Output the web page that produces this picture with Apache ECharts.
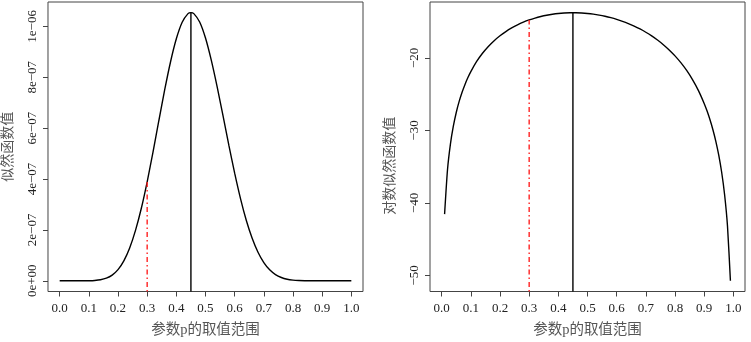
<!DOCTYPE html>
<html>
<head>
<meta charset="utf-8">
<script src="https://cdn.jsdelivr.net/npm/echarts@6/dist/echarts.min.js"></script>
<style>
  html, body { margin: 0; padding: 0; background: #fff; }
  #chart { width: 751px; height: 342px; }
</style>
</head>
<body>
<div id="chart"></div>
<script>
// 似然函数 / 对数似然函数 (p 的取值)
var pLeft = [0, 0.02, 0.04, 0.06, 0.08, 0.10, 0.12, 0.14, 0.16, 0.18, 0.20, 0.22, 0.24, 0.26, 0.28, 0.30,
  0.32, 0.34, 0.36, 0.38, 0.40, 0.42, 0.44, 0.45, 0.46, 0.48, 0.50, 0.52, 0.54, 0.56, 0.58, 0.60,
  0.62, 0.64, 0.66, 0.68, 0.70, 0.72, 0.74, 0.76, 0.78, 0.80, 0.82, 0.84, 0.86, 0.88, 0.90,
  0.92, 0.94, 0.96, 0.98, 1.0];
var likelihood = [0, 0, 0, 5.1e-12, 5.4e-11, 3.1e-10, 1.27e-9, 3.9e-9, 1.01e-8, 2.24e-8, 4.40e-8, 7.85e-8,
  1.29e-7, 1.98e-7, 2.85e-7, 3.89e-7, 5.06e-7, 6.29e-7, 7.50e-7, 8.60e-7, 9.51e-7, 1.016e-6, 1.050e-6,
  1.054e-6, 1.050e-6, 1.017e-6, 9.54e-7, 8.66e-7, 7.62e-7, 6.49e-7, 5.33e-7, 4.23e-7, 3.23e-7, 2.37e-7,
  1.67e-7, 1.12e-7, 7.15e-8, 4.31e-8, 2.44e-8, 1.29e-8, 6.2e-9, 2.75e-9, 1.1e-9, 3.7e-10, 1.0e-10,
  2.4e-11, 0, 0, 0, 0, 0, 0];

var pRight = [0.01, 0.02, 0.03, 0.04, 0.05, 0.06, 0.07, 0.08, 0.09, 0.10, 0.12, 0.14, 0.16, 0.18, 0.20,
  0.22, 0.24, 0.26, 0.28, 0.30, 0.32, 0.34, 0.36, 0.38, 0.40, 0.42, 0.44, 0.45, 0.46, 0.48, 0.50,
  0.52, 0.54, 0.56, 0.58, 0.60, 0.62, 0.64, 0.66, 0.68, 0.70, 0.72, 0.74, 0.76, 0.78, 0.80, 0.82,
  0.84, 0.86, 0.88, 0.90, 0.91, 0.92, 0.93, 0.94, 0.95, 0.96, 0.97, 0.98, 0.99];
var logLik = [-41.557, -35.430, -31.894, -29.419, -27.526, -26.001, -24.732, -23.649, -22.709, -21.882,
  -20.488, -19.354, -18.411, -17.616, -16.940, -16.360, -15.863, -15.436, -15.070, -14.759, -14.497,
  -14.280, -14.104, -13.967, -13.866, -13.800, -13.767, -13.763, -13.767, -13.799, -13.863, -13.959,
  -14.088, -14.249, -14.445, -14.677, -14.946, -15.255, -15.607, -16.005, -16.454, -16.959, -17.528,
  -18.168, -18.892, -19.712, -20.649, -21.728, -22.985, -24.473, -26.277, -27.336, -28.533, -29.905,
  -31.504, -33.415, -35.775, -38.846, -43.214, -50.747];

var pMle = 0.45;   // 黑色竖线
var pRef = 0.3;    // 红色点划线

var xTicks = [0, 0.1, 0.2, 0.3, 0.4, 0.5, 0.6, 0.7, 0.8, 0.9, 1.0];
var leftYTicks = [0, 2e-7, 4e-7, 6e-7, 8e-7, 1e-6];
var leftYLabels = ['0e+00', '2e\u221207', '4e\u221207', '6e\u221207', '8e\u221207', '1e\u221206'];
var rightYTicks = [-50, -40, -30, -20];
var rightYLabels = ['\u221250', '\u221240', '\u221230', '\u221220'];

var xTitle = '参数p的取值范围';
var leftYTitle = '似然函数值';
var rightYTitle = '对数似然函数值';

// R 风格: 坐标范围两端各扩 4%
var leftYMin = -0.0421e-6, leftYMax = 1.0957e-6;
var rightYMin = -52.23, rightYMax = -12.28;

function pairs(xs, ys) {
  return xs.map(function (x, i) { return [x, ys[i]]; });
}
function valueAt(xs, ys, x) {
  for (var i = 0; i < xs.length; i++) {
    if (Math.abs(xs[i] - x) < 1e-9) return ys[i];
  }
  return null;
}
function pickLabel(ticks, labels) {
  return function (v) {
    for (var i = 0; i < ticks.length; i++) {
      if (Math.abs(ticks[i] - v) < Math.abs(ticks[1] - ticks[0]) * 1e-3) return labels[i];
    }
    return '';
  };
}

var serif = 'Liberation Serif, Noto Sans CJK SC, serif';
var tickColor = '#222';
var titleColor = '#555';

function xAxisOf(gridIndex) {
  return {
    type: 'value', gridIndex: gridIndex, min: -0.04, max: 1.04,
    name: xTitle, nameLocation: 'middle', nameGap: 31,
    nameTextStyle: { fontFamily: serif, fontSize: 14.5, color: titleColor },
    axisLine: { show: false, onZero: false },
    splitLine: { show: false },
    axisTick: { show: true, length: 5, lineStyle: { color: '#444' }, customValues: xTicks },
    axisLabel: {
      customValues: xTicks, margin: 11, fontFamily: serif, fontSize: 13, color: tickColor,
      formatter: function (v) { return v.toFixed(1); }
    }
  };
}

function yAxisOf(gridIndex, min, max, ticks, labels, title, gap, pad) {
  return {
    type: 'value', gridIndex: gridIndex, min: min, max: max,
    name: title, nameLocation: 'middle', nameGap: gap, nameRotate: 90,
    nameTextStyle: { fontFamily: serif, fontSize: 14, color: titleColor, padding: pad },
    axisLine: { show: false, onZero: false },
    splitLine: { show: false },
    axisTick: { show: true, length: 5, lineStyle: { color: '#444' }, customValues: ticks },
    axisLabel: {
      customValues: ticks, rotate: 90, margin: 9, fontFamily: serif, fontSize: 13, color: tickColor,
      formatter: pickLabel(ticks, labels)
    }
  };
}

var lineBlack = { color: '#000', width: 1.4 };
var lineRed = { color: '#ff2020', width: 1.4, type: [1.5, 3, 5, 3] };

var chart = echarts.init(document.getElementById('chart'), null, { renderer: 'canvas' });
chart.setOption({
  backgroundColor: '#fff',
  animation: false,
  grid: [
    { left: 47, top: 2, right: 388, bottom: 48, show: true, borderColor: '#444', borderWidth: 1 },
    { left: 430, top: 2, right: 6, bottom: 48, show: true, borderColor: '#444', borderWidth: 1 }
  ],
  xAxis: [xAxisOf(0), xAxisOf(1)],
  yAxis: [
    yAxisOf(0, leftYMin, leftYMax, leftYTicks, leftYLabels, leftYTitle, 33, [0, 0, 0, 0]),
    yAxisOf(1, rightYMin, rightYMax, rightYTicks, rightYLabels, rightYTitle, 33, [0, 38, 0, 0])
  ],
  series: [
    {
      type: 'line', xAxisIndex: 0, yAxisIndex: 0, showSymbol: false, smooth: 0.2,
      lineStyle: lineBlack, data: pairs(pLeft, likelihood)
    },
    {
      type: 'line', xAxisIndex: 0, yAxisIndex: 0, showSymbol: false, lineStyle: lineBlack,
      data: [[pMle, leftYMin], [pMle, valueAt(pLeft, likelihood, pMle)]]
    },
    {
      type: 'line', xAxisIndex: 0, yAxisIndex: 0, showSymbol: false, lineStyle: lineRed,
      data: [[pRef, leftYMin], [pRef, valueAt(pLeft, likelihood, pRef)]]
    },
    {
      type: 'line', xAxisIndex: 1, yAxisIndex: 1, showSymbol: false, smooth: 0.2,
      lineStyle: lineBlack, data: pairs(pRight, logLik)
    },
    {
      type: 'line', xAxisIndex: 1, yAxisIndex: 1, showSymbol: false, lineStyle: lineBlack,
      data: [[pMle, rightYMin], [pMle, valueAt(pRight, logLik, pMle)]]
    },
    {
      type: 'line', xAxisIndex: 1, yAxisIndex: 1, showSymbol: false, lineStyle: lineRed,
      data: [[pRef, rightYMin], [pRef, valueAt(pRight, logLik, pRef)]]
    }
  ]
});
</script>
</body>
</html>
